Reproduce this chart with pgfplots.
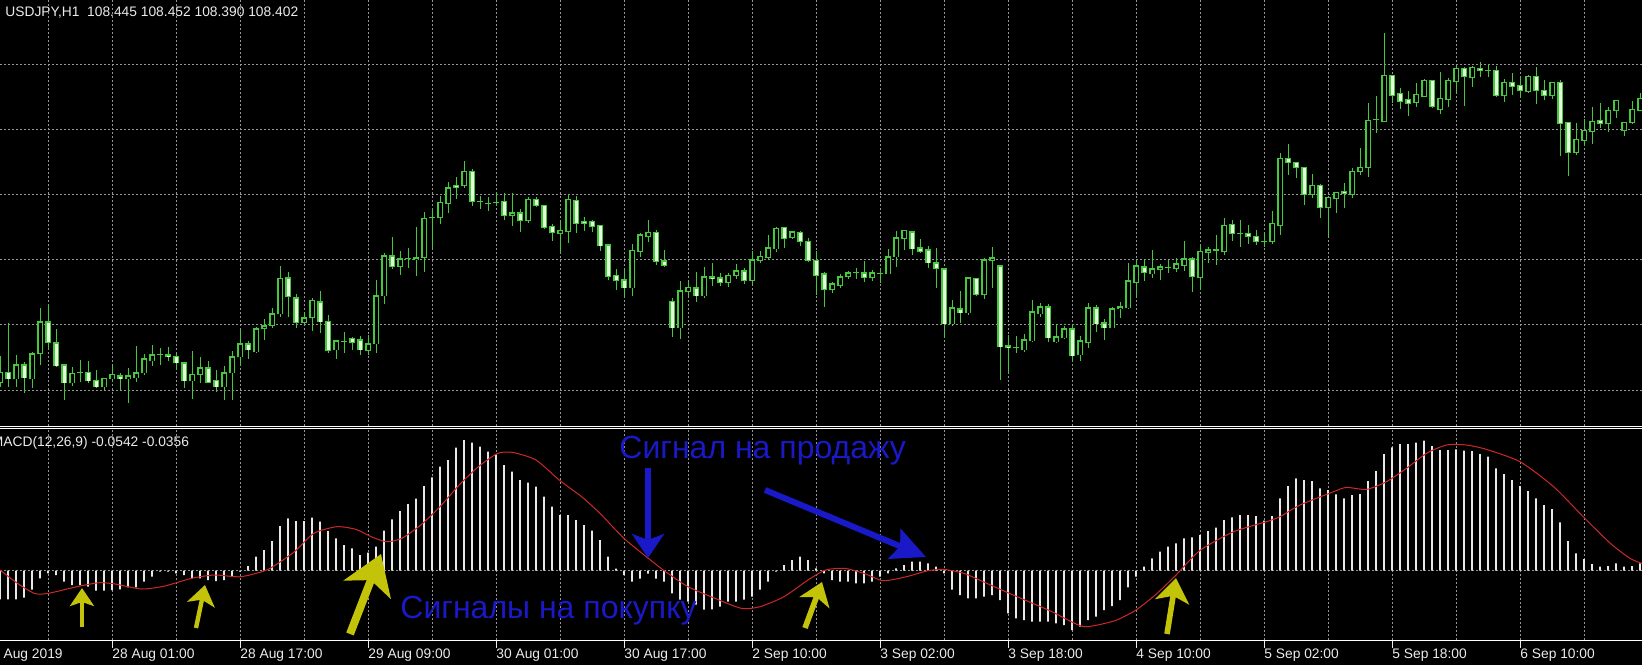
\documentclass[border=0pt]{standalone}
\usepackage{fontspec}
\setmainfont{Liberation Sans}
\usepackage{pgfplots}
\pgfplotsset{compat=1.18}
\usepackage{pgfplotstable}
\usetikzlibrary{arrows.meta}
\definecolor{cgreen}{RGB}{70,200,60}
\definecolor{cbear}{RGB}{225,255,215}
\definecolor{cgrid}{RGB}{150,150,150}
\definecolor{chist}{RGB}{232,232,232}
\definecolor{csig}{RGB}{205,40,40}
\definecolor{cblue}{RGB}{25,25,200}
\definecolor{cyel}{RGB}{195,195,10}
\definecolor{ctext}{RGB}{235,235,235}
\newcommand\lbl{\fontsize{6.9pt}{8pt}\selectfont}
\newcommand\bigfont{\fontsize{16pt}{18pt}\selectfont}

% bullish (hollow) candles: i open high low close
\pgfplotstableread{
i o h l c
0 106.18 106.44 106.13 106.28
2 106.21 106.45 106.13 106.35
4 106.21 106.48 106.12 106.46
5 106.46 106.92 106.35 106.78
9 106.17 106.33 106.14 106.27
10 106.27 106.40 106.18 106.28
13 106.13 106.22 106.10 106.22
14 106.21 106.34 106.18 106.26
16 106.21 106.32 105.97 106.24
17 106.22 106.54 106.18 106.27
18 106.27 106.46 106.25 106.41
19 106.39 106.55 106.34 106.45
20 106.45 106.52 106.35 106.45
24 106.19 106.49 106.01 106.26
25 106.26 106.43 106.17 106.32
28 106.13 106.34 106.00 106.27
29 106.27 106.49 106.00 106.43
30 106.43 106.70 106.34 106.56
32 106.48 106.73 106.47 106.71
33 106.71 106.81 106.60 106.74
34 106.74 106.92 106.72 106.86
35 106.86 107.34 106.83 107.21
38 106.77 106.88 106.75 106.82
39 106.82 107.02 106.69 106.99
42 106.50 106.59 106.41 106.59
43 106.58 106.68 106.47 106.58
46 106.49 106.65 106.45 106.56
47 106.56 107.20 106.47 107.04
48 107.04 107.47 106.96 107.44
50 107.33 107.49 107.25 107.41
51 107.41 107.52 107.32 107.41
52 107.40 107.73 107.24 107.42
53 107.42 107.88 107.28 107.81
54 107.82 107.91 107.52 107.82
55 107.82 108.04 107.76 107.97
56 107.96 108.18 107.87 108.12
58 108.14 108.39 108.12 108.28
60 107.98 108.04 107.91 107.98
61 107.96 108.03 107.89 107.96
62 107.97 108.08 107.94 107.97
64 107.84 108.07 107.74 107.87
66 107.79 108.03 107.77 108.00
70 107.66 107.79 107.47 107.69
71 107.68 108.06 107.57 108.00
79 107.12 107.56 107.04 107.49
80 107.48 107.67 107.43 107.65
81 107.63 107.80 107.58 107.67
85 106.72 107.19 106.61 107.09
86 107.08 107.18 107.03 107.12
88 107.04 107.33 107.02 107.23
91 107.17 107.27 107.13 107.24
92 107.24 107.36 107.21 107.29
94 107.19 107.49 107.16 107.40
95 107.39 107.49 107.37 107.43
96 107.42 107.65 107.41 107.52
97 107.51 107.73 107.48 107.71
99 107.62 107.69 107.61 107.68
104 107.10 107.18 107.07 107.16
105 107.14 107.26 107.12 107.23
106 107.23 107.29 107.21 107.27
107 107.27 107.32 107.21 107.27
109 107.22 107.30 107.19 107.27
110 107.26 107.31 107.17 107.26
111 107.26 107.51 107.26 107.43
112 107.43 107.69 107.33 107.62
113 107.61 107.70 107.50 107.69
119 106.76 107.00 106.74 106.92
121 106.87 107.23 106.85 107.22
123 107.05 107.42 107.01 107.40
124 107.39 107.53 107.12 107.42
127 106.52 106.64 106.47 106.52
128 106.50 106.66 106.48 106.60
129 106.59 107.00 106.58 106.88
130 106.86 106.97 106.83 106.93
132 106.58 106.76 106.57 106.63
133 106.62 106.74 106.61 106.71
135 106.45 106.64 106.39 106.59
136 106.57 106.97 106.52 106.92
139 106.72 106.93 106.72 106.91
140 106.91 106.98 106.82 106.93
141 106.92 107.37 106.91 107.19
142 107.17 107.40 107.03 107.34
144 107.26 107.50 107.22 107.31
145 107.30 107.36 107.20 107.33
146 107.32 107.40 107.27 107.32
147 107.31 107.42 107.28 107.36
148 107.34 107.59 107.29 107.41
150 107.22 107.55 107.10 107.48
151 107.47 107.53 107.37 107.50
152 107.49 107.65 107.35 107.50
153 107.48 107.82 107.45 107.74
155 107.66 107.80 107.53 107.66
158 107.58 107.67 107.53 107.58
159 107.58 107.89 107.56 107.76
160 107.74 108.47 107.65 108.41
164 108.05 108.26 108.02 108.14
166 107.92 108.03 107.64 108.02
167 108.01 108.08 107.87 108.07
169 108.05 108.32 108.02 108.28
170 108.28 108.52 108.25 108.32
171 108.32 108.97 108.23 108.79
172 108.80 109.04 108.67 108.80
173 108.78 109.67 108.78 109.24
177 108.97 109.17 108.93 109.05
178 109.03 109.21 109.03 109.19
180 108.90 109.28 108.86 109.01
181 109.00 109.22 108.93 109.19
182 109.18 109.34 109.08 109.31
184 109.22 109.34 109.13 109.32
186 109.29 109.36 109.23 109.29
188 109.04 109.21 108.98 109.17
191 109.08 109.25 109.07 109.23
194 109.04 109.18 109.01 109.17
197 108.47 108.77 108.45 108.60
198 108.59 108.81 108.54 108.69
199 108.68 108.93 108.56 108.78
201 108.76 108.93 108.68 108.89
202 108.89 109.00 108.82 108.99
203 108.69 108.77 108.64 108.77
204 108.77 108.99 108.76 108.90
205 108.89 109.07 108.89 109.01
}\bulltab

% bearish (filled) candles: i open high low close
\pgfplotstableread{
i o h l c
1 106.28 106.77 106.13 106.21
3 106.35 106.38 106.07 106.22
6 106.78 106.96 106.51 106.57
7 106.57 106.71 106.33 106.34
8 106.35 106.35 106.00 106.17
11 106.28 106.39 106.17 106.19
12 106.20 106.30 106.12 106.13
15 106.24 106.27 106.10 106.21
21 106.45 106.53 106.39 106.43
22 106.44 106.47 106.30 106.37
23 106.37 106.38 106.12 106.19
26 106.32 106.39 106.18 106.18
27 106.20 106.30 106.08 106.13
31 106.56 106.59 106.41 106.50
36 107.22 107.28 106.83 107.03
37 107.02 107.06 106.72 106.77
40 106.98 107.09 106.67 106.78
41 106.78 106.85 106.47 106.49
44 106.61 106.63 106.50 106.57
45 106.60 106.64 106.45 106.50
49 107.44 107.63 107.31 107.33
57 108.14 108.23 108.01 108.12
59 108.28 108.31 107.94 107.98
63 107.98 108.07 107.80 107.84
65 107.87 107.91 107.68 107.79
67 108.00 108.03 107.93 107.94
68 107.94 107.95 107.71 107.72
69 107.73 107.76 107.59 107.67
72 107.99 108.04 107.67 107.76
73 107.78 107.83 107.69 107.76
74 107.78 107.80 107.68 107.73
75 107.74 107.74 107.49 107.54
76 107.55 107.56 107.20 107.23
77 107.24 107.31 107.10 107.19
78 107.20 107.31 107.03 107.12
82 107.67 107.70 107.35 107.38
83 107.39 107.50 107.33 107.34
84 106.98 107.02 106.63 106.72
87 107.12 107.28 106.98 107.04
89 107.23 107.37 107.14 107.21
90 107.22 107.27 107.14 107.17
93 107.29 107.32 107.16 107.19
98 107.72 107.72 107.52 107.61
100 107.67 107.69 107.54 107.58
101 107.58 107.62 107.38 107.39
102 107.39 107.49 107.05 107.24
103 107.26 107.28 106.93 107.10
108 107.27 107.39 107.18 107.22
114 107.68 107.69 107.45 107.51
115 107.52 107.61 107.47 107.48
116 107.50 107.54 107.32 107.37
117 107.37 107.52 107.12 107.31
118 107.31 107.32 106.62 106.76
120 106.91 107.09 106.77 106.87
122 107.21 107.21 107.04 107.05
125 107.34 107.34 106.20 106.53
126 106.54 106.65 106.27 106.52
131 106.93 106.96 106.58 106.62
134 106.71 106.75 106.38 106.44
137 106.92 106.95 106.68 106.76
138 106.77 106.81 106.60 106.72
143 107.33 107.41 107.19 107.27
149 107.41 107.43 107.08 107.23
154 107.75 107.80 107.59 107.66
156 107.66 107.75 107.56 107.63
157 107.63 107.70 107.55 107.58
161 108.41 108.56 108.25 108.37
162 108.37 108.37 108.22 108.32
163 108.32 108.33 107.95 108.05
165 108.14 108.16 107.82 107.92
168 108.08 108.17 107.92 108.06
174 109.24 109.24 108.97 109.04
175 109.06 109.12 108.91 108.98
176 109.00 109.09 108.84 108.96
179 109.19 109.19 108.92 108.93
183 109.31 109.33 108.94 109.23
185 109.31 109.38 109.23 109.29
187 109.29 109.34 109.03 109.04
189 109.17 109.27 109.05 109.13
190 109.14 109.23 109.02 109.09
192 109.23 109.33 108.96 109.09
193 109.09 109.20 109.00 109.04
195 109.17 109.20 108.44 108.76
196 108.77 108.78 108.24 108.47
200 108.79 108.97 108.72 108.76
}\beartab

% MACD histogram
\pgfplotstableread{
i m
0 -0.0287
1 -0.0287
2 -0.0287
3 -0.027
4 -0.019
5 -0.0077
6 -0.0027
7 -0.0043
8 -0.011
9 -0.0143
10 -0.0143
11 -0.016
12 -0.020
13 -0.020
14 -0.0193
15 -0.0187
16 -0.0167
17 -0.0167
18 -0.011
19 -0.006
20 -0.001
21 -0.001
22 -0.0027
23 -0.0043
24 -0.0077
25 -0.0077
26 -0.0093
27 -0.0103
28 -0.0093
29 -0.0053
30 -0.001
31 0.0047
32 0.014
33 0.0207
34 0.0297
35 0.0447
36 0.0523
37 0.0497
38 0.0497
39 0.053
40 0.049
41 0.0397
42 0.0323
43 0.0257
44 0.0223
45 0.0157
46 0.018
47 0.024
48 0.040
49 0.0513
50 0.0597
51 0.0667
52 0.072
53 0.0847
54 0.0933
55 0.104
56 0.1107
57 0.123
58 0.1307
59 0.128
60 0.124
61 0.119
62 0.1157
63 0.1057
64 0.099
65 0.0907
66 0.088
67 0.084
68 0.074
69 0.064
70 0.0557
71 0.0557
72 0.0507
73 0.0457
74 0.040
75 0.0307
76 0.014
77 0.002
78 -0.0043
79 -0.011
80 -0.008
81 -0.003
82 -0.008
83 -0.011
84 -0.0227
85 -0.029
86 -0.031
87 -0.034
88 -0.039
89 -0.0387
90 -0.036
91 -0.031
92 -0.031
93 -0.029
94 -0.026
95 -0.019
96 -0.011
97 -0.001
98 0.0057
99 0.0107
100 0.014
101 0.0107
102 0.0023
103 -0.0027
104 -0.0093
105 -0.011
106 -0.011
107 -0.0127
108 -0.0127
109 -0.011
110 -0.006
111 -0.0027
112 0.0023
113 0.0057
114 0.009
115 0.009
116 0.0073
117 0.004
118 -0.0027
119 -0.019
120 -0.0243
121 -0.0277
122 -0.0277
123 -0.026
124 -0.0243
125 -0.0293
126 -0.0427
127 -0.0477
128 -0.0493
129 -0.051
130 -0.051
131 -0.051
132 -0.0527
133 -0.0543
134 -0.0593
135 -0.056
136 -0.0493
137 -0.046
138 -0.0393
139 -0.0353
140 -0.0293
141 -0.0167
142 -0.006
143 0.004
144 0.0123
145 0.019
146 0.024
147 0.0273
148 0.0323
149 0.0333
150 0.0357
151 0.0397
152 0.043
153 0.0507
154 0.0533
155 0.0557
156 0.0557
157 0.0547
158 0.050
159 0.0547
160 0.0723
161 0.0847
162 0.0923
163 0.0907
164 0.0897
165 0.0823
166 0.0807
167 0.0763
168 0.0723
169 0.0757
170 0.0767
171 0.0897
172 0.0997
173 0.1167
174 0.1233
175 0.1267
176 0.1267
177 0.128
178 0.130
179 0.1247
180 0.1207
181 0.1207
182 0.1213
183 0.120
184 0.1197
185 0.1167
186 0.114
187 0.1023
188 0.0967
189 0.0907
190 0.0847
191 0.0797
192 0.0723
193 0.0657
194 0.0617
195 0.0483
196 0.0297
197 0.0173
198 0.0117
199 0.0067
200 0.004
201 0.0047
202 0.0073
203 0.004
204 0.0047
205 0.0073
}\histtab

% MACD signal line
\pgfplotstableread{
i s
0 0.0007
2.2 -0.0127
4.3 -0.0227
6 -0.0227
9.6 -0.016
12.4 -0.012
14.4 -0.0133
17.7 -0.0183
20.6 -0.0153
23.9 -0.0077
26.8 -0.0043
30.1 -0.006
33.5 0.0013
36.8 0.019
39.2 0.0373
42.1 0.044
44.5 0.0413
46.4 0.034
48.3 0.029
50.2 0.0323
52.6 0.0457
55 0.064
57.4 0.0857
59.8 0.104
62.2 0.1173
64.1 0.1183
67 0.1107
69.9 0.0907
72.7 0.074
75 0.0573
78 0.0323
81.3 0.0107
83.2 -0.001
86 -0.016
89.4 -0.0277
92.7 -0.0377
95 -0.036
98 -0.026
101 -0.0093
103.2 0.0007
105.6 0.0023
108 -0.0027
110.4 -0.010
113.3 -0.006
116 0.0
118 0.0013
120.5 -0.0027
122.9 -0.011
125.7 -0.021
128.6 -0.031
131.5 -0.041
133.9 -0.051
135.5 -0.056
137.2 -0.0543
139.6 -0.0493
142 -0.0393
144.4 -0.0243
146.8 -0.006
150 0.0203
154.2 0.039
158.3 0.049
160 0.054
162.5 0.0657
166.7 0.079
168.3 0.0833
170.8 0.0813
173.3 0.089
175.8 0.1023
178.3 0.1173
180.8 0.1257
183.3 0.1257
185.8 0.1213
190 0.109
194.2 0.084
197.9 0.054
201.3 0.0273
203.75 0.0123
205.25 0.0073
}\sigtab

\pgfplotsset{
  candle/.style n args={3}{draw=none, mark=none, forget plot,
    error bars/.cd, y dir=plus, y explicit, error mark=none,
    error bar style={draw=#1, line width=#2, solid}},
}

\begin{document}
\begin{tikzpicture}
\path[use as bounding box] (0,0) rectangle (821pt,332.5pt);
\fill[black] (0,0) rectangle (821pt,332.5pt);
\clip (0,0) rectangle (821pt,332.5pt);

% ---------- price panel ----------
\begin{axis}[
  at={(0pt,119.5pt)}, anchor=south west,
  scale only axis, width=821pt, height=213pt,
  xmin=0, xmax=205.25, ymin=105.74, ymax=110,
  axis line style={draw=none},
  tick style={draw=none},
  xtick={6,14,...,198}, xticklabels={},
  ytick={106.10,106.75,107.40,108.05,108.70,109.35}, yticklabels={},
  xmajorgrids, ymajorgrids,
  major grid style={draw=cgrid, line width=0.5pt, dash pattern=on 1pt off 1pt},
]
% wicks
\addplot[candle={cgreen}{0.5pt}{}]
  table[x=i, y=l, y error plus expr=\thisrow{h}-\thisrow{l}] {\bulltab};
\addplot[candle={cgreen}{0.5pt}{}]
  table[x=i, y=l, y error plus expr=\thisrow{h}-\thisrow{l}] {\beartab};
% bodies: outline
\addplot[candle={cgreen}{2.6pt}{}]
  table[x=i, y expr=\thisrow{o}-0.005, y error plus expr=\thisrow{c}-\thisrow{o}+0.01] {\bulltab};
\addplot[candle={cgreen}{2.6pt}{}]
  table[x=i, y expr=\thisrow{c}-0.005, y error plus expr=\thisrow{o}-\thisrow{c}+0.01] {\beartab};
% bodies: inside
\addplot[candle={black}{1.5pt}{}]
  table[x=i, y expr=\thisrow{o}+0.005, y error plus expr={max(\thisrow{c}-\thisrow{o}-0.01,0)}] {\bulltab};
\addplot[candle={cbear}{1.5pt}{}]
  table[x=i, y expr=\thisrow{c}+0.005, y error plus expr={max(\thisrow{o}-\thisrow{c}-0.01,0)}] {\beartab};
\end{axis}

% ---------- MACD panel ----------
\begin{axis}[
  at={(0pt,12.5pt)}, anchor=south west,
  scale only axis, width=821pt, height=105.75pt,
  xmin=0, xmax=205.25, ymin=-0.0693, ymax=0.1422,
  axis line style={draw=none},
  xtick={14,30,...,190},
  xticklabels={28 Aug 01:00, 28 Aug 17:00, 29 Aug 09:00, 30 Aug 01:00, 30 Aug 17:00, 2 Sep 10:00, 3 Sep 02:00, 3 Sep 18:00, 4 Sep 10:00, 5 Sep 02:00, 5 Sep 18:00, 6 Sep 10:00},
  minor xtick={6,22,...,198},
  xtick pos=left, tick align=outside,
  major tick length=4pt, minor tick length=0pt,
  xtick style={draw=ctext, line width=0.5pt},
  ytick={0}, yticklabels={}, ytick style={draw=none},
  xmajorgrids, xminorgrids, ymajorgrids,
  major grid style={draw=cgrid, line width=0.5pt, dash pattern=on 1pt off 1pt},
  minor grid style={draw=cgrid, line width=0.5pt, dash pattern=on 1pt off 1pt},
  xticklabel style={anchor=north west, inner sep=0pt, font=\lbl, text=ctext},
]
\addplot[ybar, bar width=0.8pt, fill=chist, draw=none] table[x=i, y=m] {\histtab};
\addplot[csig, line width=0.5pt, smooth, tension=0.4, mark=none] table[x=i, y=s] {\sigtab};
\end{axis}

% ---------- annotations in pixel units (origin top-left) ----------
\begin{scope}[shift={(0pt,332.5pt)}, x=0.5pt, y=-0.5pt]
  \draw[white, line width=0.5pt] (0,426) -- (1642,426);
  \draw[white, line width=0.5pt] (0,428.5) -- (1642,428.5);
  \draw[white, line width=0.5pt] (0,640) -- (1642,640);
  \node[anchor=base west, inner sep=0pt, text=ctext, font=\lbl] at (5,16.7) {USDJPY,H1\ \ 108.445 108.452 108.390 108.402};
  \node[anchor=base west, inner sep=0pt, text=ctext, font=\lbl] at (-8.5,446) {MACD(12,26,9) -0.0542 -0.0356};
  \node[anchor=north west, inner sep=0pt, text=ctext, font=\lbl] at (-16,648) {27 Aug 2019};
  % blue annotations
  \node[anchor=base west, inner sep=0pt, text=cblue, font=\bigfont] at (619,458) {Сигнал на продажу};
  \node[anchor=base west, inner sep=0pt, text=cblue, font=\bigfont] at (400,618) {Сигналы на покупку};
  \draw[cblue, line width=2.6pt, -{Stealth[length=12pt, width=16pt, inset=3pt]}] (648,468) -- (648,558);
  \draw[cblue, line width=3pt, -{Stealth[length=17pt, width=16pt, inset=3pt]}] (765,490) -- (926,557);
  % yellow arrows
  \draw[cyel, line width=2.2pt, -{Stealth[length=9pt, width=12pt, inset=2pt]}] (82,627) -- (82,588);
  \draw[cyel, line width=2.2pt, -{Stealth[length=10pt, width=14pt, inset=2.5pt]}] (196,628) -- (205,585);
  \draw[cyel, line width=4pt, -{Stealth[length=19pt, width=25pt, inset=5pt]}] (350,634) -- (381,554);
  \draw[cyel, line width=2.8pt, -{Stealth[length=11pt, width=16pt, inset=3pt]}] (805,628) -- (822,582);
  \draw[cyel, line width=2.8pt, -{Stealth[length=12pt, width=17pt, inset=3pt]}] (1167,634) -- (1176,578);
\end{scope}
\end{tikzpicture}
\end{document}
